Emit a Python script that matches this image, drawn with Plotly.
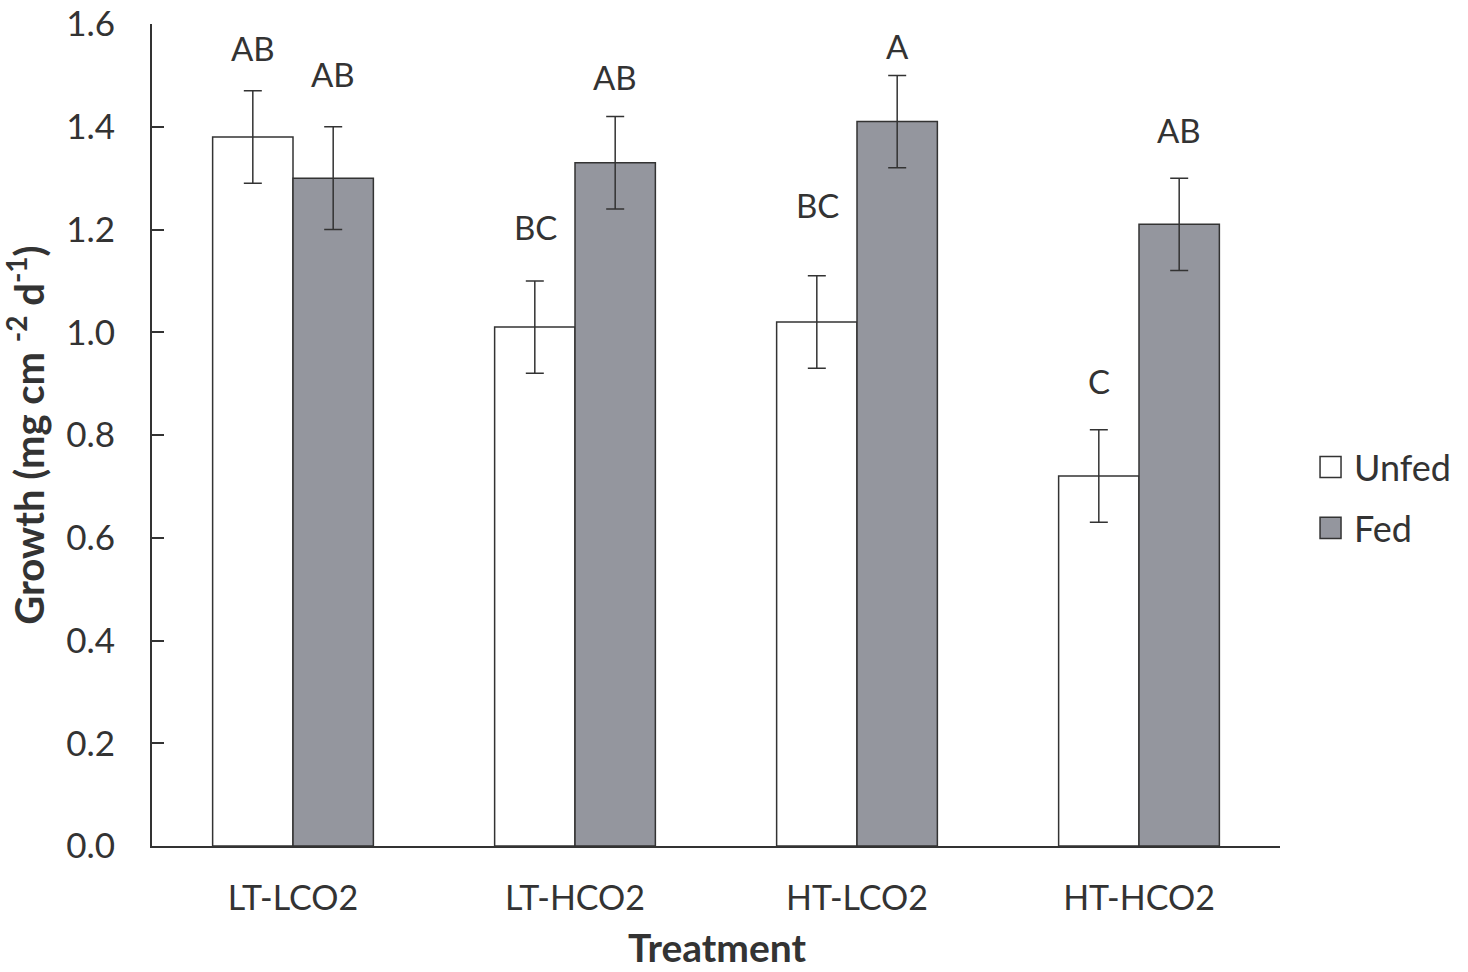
import plotly.graph_objects as go

categories = ["LT-LCO2", "LT-HCO2", "HT-LCO2", "HT-HCO2"]
unfed = [1.38, 1.01, 1.02, 0.72]
fed = [1.30, 1.33, 1.41, 1.21]
unfed_err = [0.09, 0.09, 0.09, 0.09]
fed_err = [0.10, 0.09, 0.09, 0.09]
unfed_letters = ["AB", "BC", "BC", "C"]
fed_letters = ["AB", "AB", "A", "AB"]
unfed_letter_y = [1.553, 1.205, 1.248, 0.905]
fed_letter_y = [1.503, 1.497, 1.557, 1.394]
y_ticks = [0.0, 0.2, 0.4, 0.6, 0.8, 1.0, 1.2, 1.4, 1.6]
series_names = ["Unfed", "Fed"]
series_colors = ["white", "#94969e"]

FONT = "Lato"
DARK = "#333333"

fig = go.Figure()
for name, vals, errs, col in [("Unfed", unfed, unfed_err, series_colors[0]),
                              ("Fed", fed, fed_err, series_colors[1])]:
    fig.add_trace(go.Bar(
        name=name, x=categories, y=vals, showlegend=False,
        marker=dict(color=col, line=dict(color=DARK, width=1.5)),
        error_y=dict(type="data", array=errs, color=DARK, thickness=1.5, width=9),
    ))

annotations = []
for i, c in enumerate(categories):
    annotations.append(dict(x=c, y=unfed_letter_y[i], text=unfed_letters[i], xref="x", yref="y",
                            showarrow=False, xshift=-40, font=dict(size=33, color=DARK, family=FONT)))
    annotations.append(dict(x=c, y=fed_letter_y[i], text=fed_letters[i], xref="x", yref="y",
                            showarrow=False, xshift=40, font=dict(size=33, color=DARK, family=FONT)))

# axis titles
annotations.append(dict(x=0.501, y=-0.1533, xref="paper", yref="paper", showarrow=False,
                        text="<b>Treatment</b>", xanchor="center", yanchor="bottom",
                        font=dict(size=39, color=DARK, family=FONT)))
annotations.append(dict(x=-0.1117, y=0.499, xref="paper", yref="paper", showarrow=False,
                        text="<b>Growth (mg cm <sup>-2</sup> d<sup>-1</sup>)</b>", textangle=-90,
                        xanchor="center", yanchor="middle",
                        font=dict(size=40, color=DARK, family=FONT)))

# custom legend
shapes = []
legend_y = [0.461, 0.387]
for name, col, ly in zip(series_names, series_colors, legend_y):
    shapes.append(dict(type="rect", xref="paper", yref="paper",
                       x0=1.0355, x1=1.0541, y0=ly - 0.0128, y1=ly + 0.0128,
                       fillcolor=col, line=dict(color=DARK, width=1.5)))
    annotations.append(dict(x=1.0638, y=ly, xref="paper", yref="paper", showarrow=False,
                            text=name, xanchor="left", yanchor="middle",
                            font=dict(size=36, color=DARK, family=FONT)))

fig.update_layout(
    width=1468, height=972,
    margin=dict(l=152, r=188, t=24, b=126),
    paper_bgcolor="white", plot_bgcolor="white",
    barmode="group", bargap=0.43, bargroupgap=0,
    font=dict(family=FONT, size=34, color=DARK),
    annotations=annotations, shapes=shapes,
    showlegend=False,
    xaxis=dict(
        automargin=False,
        showline=True, linecolor=DARK, linewidth=2, ticks="",
        tickfont=dict(size=34, color=DARK, family=FONT), ticklabelstandoff=21,
    ),
    yaxis=dict(
        automargin=False,
        range=[0, 1.6], tickvals=y_ticks, ticktext=[f"{v:.1f}" for v in y_ticks],
        showline=True, linecolor=DARK, linewidth=2, ticks="inside", ticklen=12, tickwidth=2, tickcolor=DARK,
        showgrid=False, zeroline=False, ticklabelstandoff=28,
        tickfont=dict(size=35, color=DARK, family=FONT),
    ),
)

fig.write_html("out.html", config={"displayModeBar": False},
               post_script="document.body.style.margin='0';document.body.style.overflow='hidden';")
